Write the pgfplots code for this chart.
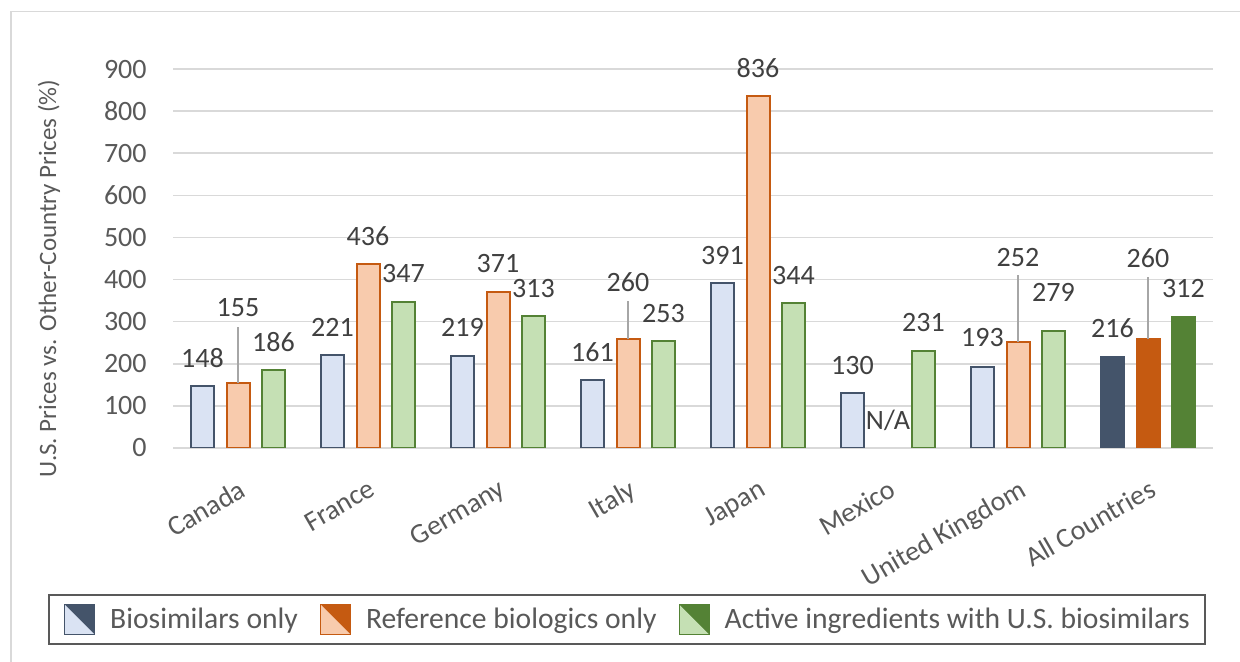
\documentclass[border=0pt]{standalone}
\usepackage{pgfplots}
\usepackage{pgfplotstable}
\pgfplotsset{compat=1.18}
\usepackage{fontspec}
\setmainfont{Carlito}
\definecolor{bioD}{HTML}{44546A}
\definecolor{bioL}{HTML}{DAE3F3}
\definecolor{refD}{HTML}{C55A11}
\definecolor{refL}{HTML}{F8CBAD}
\definecolor{actD}{HTML}{548235}
\definecolor{actL}{HTML}{C5E0B4}
\definecolor{gridc}{HTML}{D9D9D9}
\definecolor{txt}{HTML}{595959}
\definecolor{lab}{HTML}{404040}
\definecolor{leader}{HTML}{A6A6A6}

\pgfplotstableread{
x y off
0 148 14
1 221 14
2 219 14
3 161 14
4 391 14
5 130 14
6 193 14.5
}\bio
\pgfplotstableread{
x y off
0 155 37.35
1 436 14
2 371 14
3 260 28.25
4 836 14
6 252 42
}\refb
\pgfplotstableread{
x y off
0 186 14
1 347 14
2 313 14
3 253 14
4 344 14
5 231 14
6 279 19
}\act
\pgfplotstableread{
x bio ref act offbio offref offact
7 216 260 312 14.5 40.25 14
}\allc

\pgfplotsset{
  legbio/.style={legend image code/.code={
    \path[fill=bioD, draw=none] (0pt,-7.5pt) rectangle (15pt,7.5pt);
    \path[fill=bioL, draw=none] (0pt,7.5pt) -- (15pt,-7.5pt) -- (0pt,-7.5pt) -- cycle;
    \path[draw=bioD, fill=none, line width=0.6pt] (0pt,-7.5pt) rectangle (15pt,7.5pt);
  }},
  legref/.style={legend image code/.code={
    \path[fill=refD, draw=none] (0pt,-7.5pt) rectangle (15pt,7.5pt);
    \path[fill=refL, draw=none] (0pt,7.5pt) -- (15pt,-7.5pt) -- (0pt,-7.5pt) -- cycle;
    \path[draw=refD, fill=none, line width=0.6pt] (0pt,-7.5pt) rectangle (15pt,7.5pt);
  }},
  legact/.style={legend image code/.code={
    \path[fill=actD, draw=none] (0pt,-7.5pt) rectangle (15pt,7.5pt);
    \path[fill=actL, draw=none] (0pt,7.5pt) -- (15pt,-7.5pt) -- (0pt,-7.5pt) -- cycle;
    \path[draw=actD, fill=none, line width=0.6pt] (0pt,-7.5pt) rectangle (15pt,7.5pt);
  }},
  lbl/.style={
    visualization depends on={\thisrow{#1}\as\myoff},
    nodes near coords,
    every node near coord/.append style={anchor=center, yshift=\myoff pt, font=\fontsize{14}{16}\selectfont, text=lab},
  },
}

\begin{document}
\begin{tikzpicture}
\useasboundingbox (0,0) rectangle (620pt,331pt);
\draw[gridc, line width=0.75pt] (5.5pt,-5pt) -- (5.5pt,325.2pt) -- (630pt,325.2pt);
\begin{axis}[
  at={(86.5pt,107pt)}, anchor=south west,
  scale only axis, width=520pt, height=189.5pt,
  xmin=-0.5, xmax=7.5, ymin=0, ymax=900,
  ytick={0,100,...,900},
  xtick={0,...,7},
  xticklabels={Canada,France,Germany,Italy,Japan,Mexico,United Kingdom,All Countries},
  ymajorgrids, grid style={gridc, line width=0.75pt},
  axis line style={draw=none},
  major tick length=0pt,
  tick label style={font=\fontsize{14}{16}\selectfont, text=txt},
  /pgf/number format/assume math mode=true,
  yticklabel style={anchor=east, inner sep=0pt},
  yticklabel shift=13pt,
  xticklabel style={rotate=30, anchor=north east, inner sep=0pt},
  xticklabel shift=15pt,
  ylabel={U.S. Prices vs. Other-Country Prices (\%)},
  every axis y label/.style={at={(axis description cs:0,0.447)}, xshift=-62pt, rotate=90, anchor=center, font=\fontsize{12.5}{15}\selectfont, text=txt},
  ybar, bar width=11.5pt,
  legend columns=3,
  legend style={at={(axis description cs:-0.12019,-0.5198)}, anchor=south west,
    draw=txt, line width=1pt, font=\fontsize{14.8}{17}\selectfont, text=txt,
    nodes={inner sep=0pt},
    /tikz/every odd column/.append style={column sep=7.5pt},
    /tikz/every even column/.append style={column sep=11pt},
    inner ysep=4.5pt, inner xsep=7.5pt},
  legend cell align=left,
]
\addplot[fill=bioL, draw=bioD, line width=1pt, bar shift=-17.75pt, legbio, lbl=off] table[x=x,y=y] {\bio};
\addlegendentry{Biosimilars only}
\addplot[fill=refL, draw=refD, line width=1pt, bar shift=0pt, legref, lbl=off] table[x=x,y=y] {\refb};
\addlegendentry{Reference biologics only}
\addplot[fill=actL, draw=actD, line width=1pt, bar shift=17.75pt, legact, lbl=off] table[x=x,y=y] {\act};
\addlegendentry{Active ingredients with U.S. biosimilars\hspace{21pt}}
\addplot[fill=bioD, draw=bioD, line width=1pt, bar shift=-17.75pt, forget plot, lbl=offbio] table[x=x,y=bio] {\allc};
\addplot[fill=refD, draw=refD, line width=1pt, bar shift=0pt, forget plot, lbl=offref] table[x=x,y=ref] {\allc};
\addplot[fill=actD, draw=actD, line width=1pt, bar shift=17.75pt, forget plot, lbl=offact] table[x=x,y=act] {\allc};
\draw[leader, line width=0.75pt] (axis cs:0,155) -- ([yshift=28pt]axis cs:0,155);
\draw[leader, line width=0.75pt] (axis cs:3,260) -- ([yshift=18.9pt]axis cs:3,260);
\draw[leader, line width=0.75pt] (axis cs:6,252) -- ([yshift=33.5pt]axis cs:6,252);
\draw[leader, line width=0.75pt] (axis cs:7,260) -- ([yshift=30.9pt]axis cs:7,260);
\node[font=\fontsize{14}{16}\selectfont, text=lab] at ([yshift=13.65pt]axis cs:5,0) {N/A};
\end{axis}
\end{tikzpicture}
\end{document}
